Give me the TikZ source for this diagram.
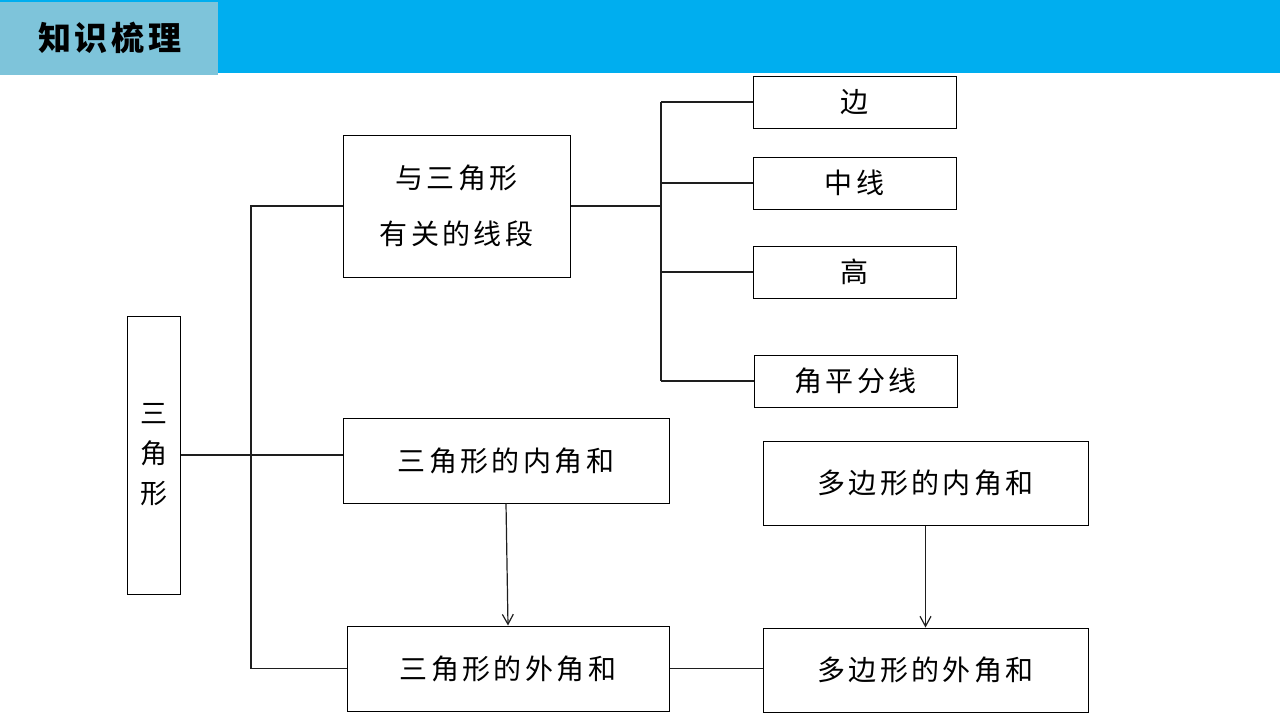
\documentclass[tikz,border=0pt]{standalone}
\usepackage{fontspec}
\setmainfont{Noto Sans CJK SC}[LetterSpace=12]
\usetikzlibrary{arrows.meta,positioning,calc}
\definecolor{barcol}{RGB}{0,174,239}
\definecolor{tagcol}{RGB}{126,196,218}
\definecolor{linecol}{RGB}{30,30,30}

\begin{document}
\begin{tikzpicture}[x=1pt,y=-1pt,
  box/.style={draw=black,line width=1pt,inner sep=0pt,
    font=\fontsize{28}{56}\selectfont,align=center},
  ln/.style={linecol,line width=1.2pt},
  >={Straight Barb[length=10pt,width=11pt]}]
  \useasboundingbox (0,0) rectangle (1280,720);
  % header bar
  \fill[barcol] (0,0) rectangle (1280,73);
  \fill[tagcol] (0,2) rectangle (218,75);
  \node[font=\fontsize{33}{36}\selectfont\bfseries] (title) at (110,38) {知识梳理};
  % boxes
  \node[box,minimum width=53,minimum height=278,font=\fontsize{27}{40}\selectfont] (tri) at (153.5,455) {三\\角\\形};
  \node[box,minimum width=227,minimum height=142] (seg) at (456.5,206) {与三角形\\有关的线段};
  \node[box,minimum width=203,minimum height=52] (e1) at (854.5,102) {边};
  \node[box,minimum width=203,minimum height=52] (e2) at (854.5,183) {中线};
  \node[box,minimum width=203,minimum height=52] (e3) at (854.5,272) {高};
  \node[box,minimum width=203,minimum height=52] (e4) at (855.5,381) {角平分线};
  \node[box,minimum width=326,minimum height=85] (inn) at (506,460.5) {三角形的内角和};
  \node[box,minimum width=322,minimum height=85] (ext) at (508,668.5) {三角形的外角和};
  \node[box,minimum width=325,minimum height=84] (pin) at (925.5,483) {多边形的内角和};
  \node[box,minimum width=325,minimum height=84] (pout) at (925.5,670) {多边形的外角和};
  % left brace
  \coordinate (spL) at (251,0);
  \draw[ln] (seg.west) -| (spL |- ext.west) -- (ext.west);
  \draw[ln] (tri.east) -- (tri.east -| inn.west);
  % right brace
  \coordinate (spR) at (661,0);
  \draw[ln] (seg.east) -- (seg.east -| spR);
  \draw[ln] (spR |- e1.west) -- (spR |- e4.west);
  \foreach \n in {e1,e2,e3,e4}{\draw[ln] (spR |- \n.west) -- (\n.west);}
  % arrows
  \draw[ln,->] (inn.south) -- (ext.north);
  \draw[ln,->] (pin.south) -- (pout.north);
  \draw[ln] (ext.east) -- (ext.east -| pout.west);
\end{tikzpicture}
\end{document}
